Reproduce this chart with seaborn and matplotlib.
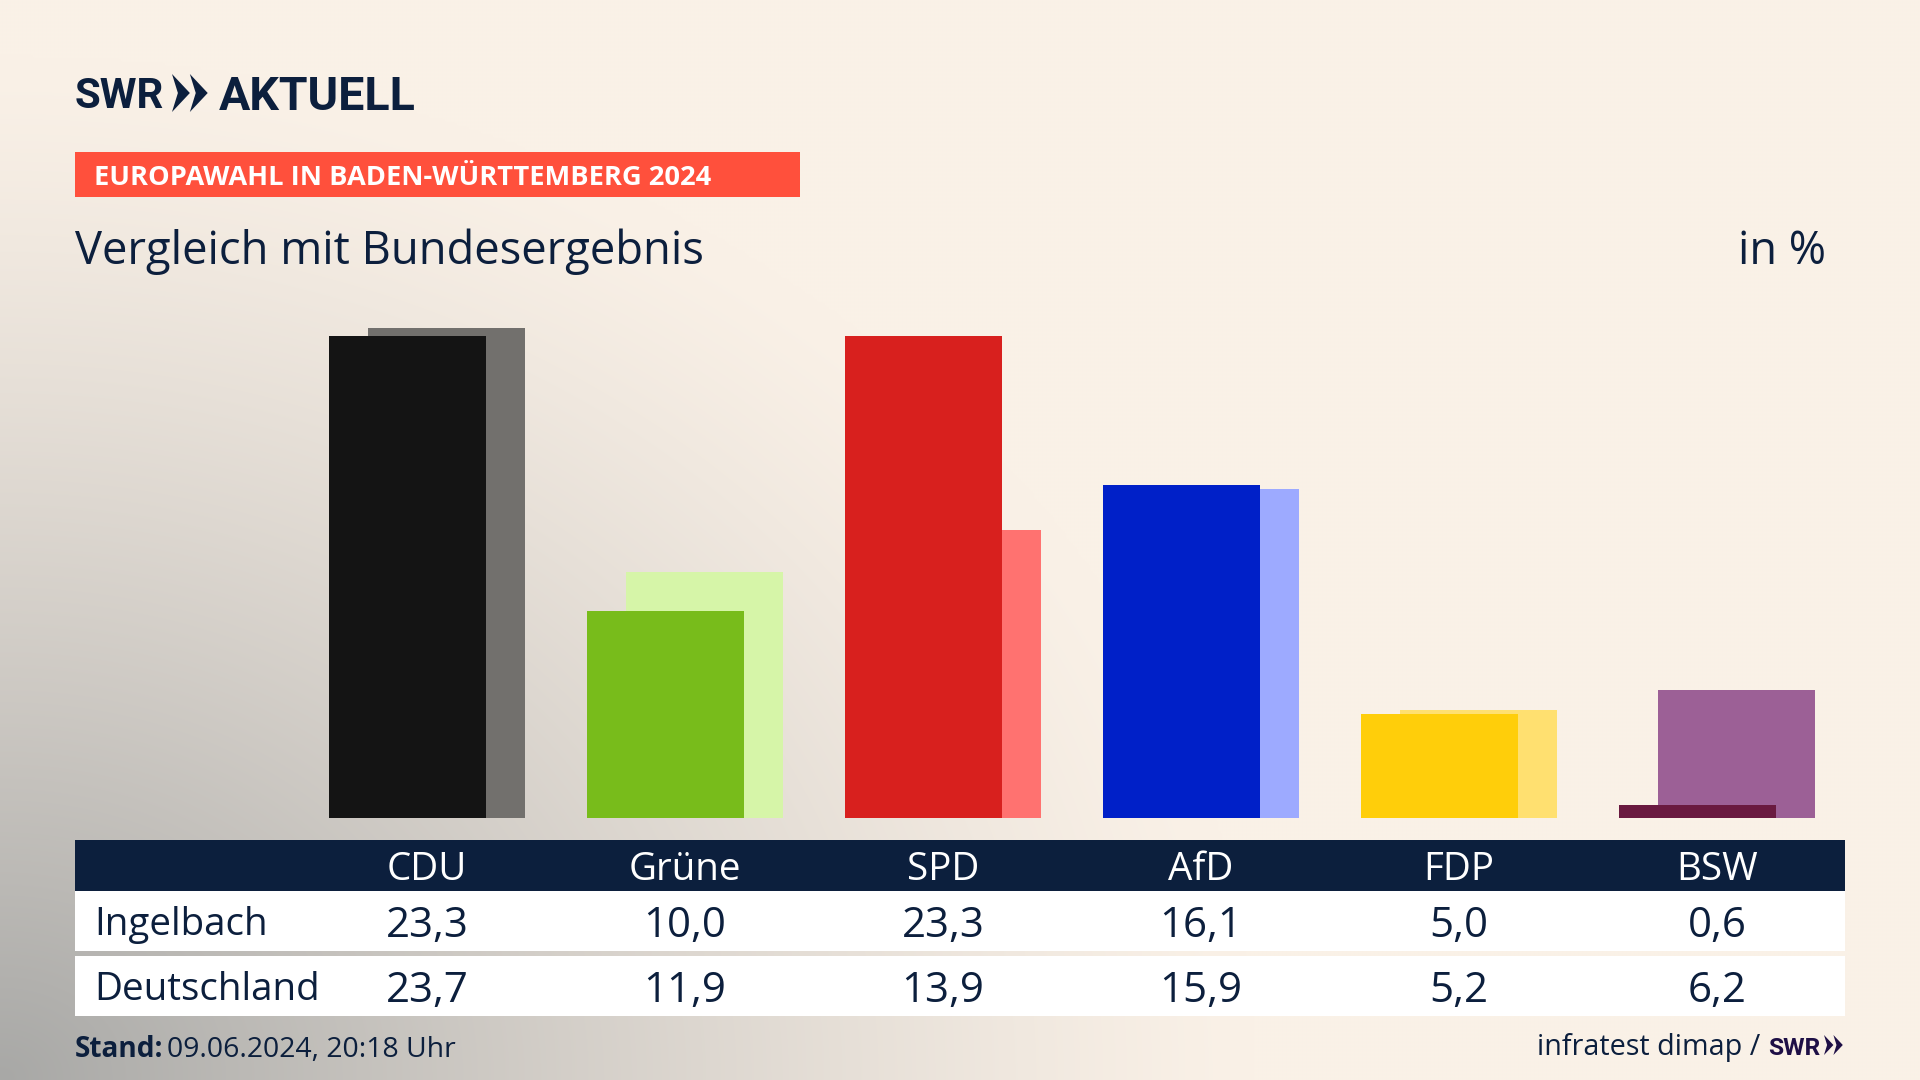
import numpy as np
import matplotlib
matplotlib.use('Agg')
import matplotlib.pyplot as plt
from matplotlib.patches import Rectangle, Polygon
import pandas as pd
import seaborn as sns

parties = ['CDU', 'Grüne', 'SPD', 'AfD', 'FDP', 'BSW']
ingelbach = [23.3, 10.0, 23.3, 16.1, 5.0, 0.6]
deutschland = [23.7, 11.9, 13.9, 15.9, 5.2, 6.2]
colors_front = ['#141414', '#78BC1B', '#D8201E', '#0020C8', '#FFCE0A', '#6A1A40']
colors_back = ['#72706D', '#D6F5A8', '#FF7270', '#9DAAFF', '#FFE070', '#9C6096']

NAVY = '#0C1F3D'
BEIGE = np.array([250, 241, 231]) / 255
CORNER = np.array([168, 168, 166]) / 255
FONT = 'Open Sans'
LOGO_FONT = 'Roboto'

sns.set_theme(style='white')
plt.rcParams['font.family'] = [FONT, 'DejaVu Sans']

fig = plt.figure(figsize=(19.2, 10.8), dpi=100)

# layout axes in pixels, everything that isn't a bar goes here
bg = fig.add_axes([0, 0, 1, 1], zorder=0)
bg.set_xlim(0, 1920)
bg.set_ylim(1080, 0)
bg.axis('off')

# grey glow from the bottom left corner
xx, yy = np.meshgrid(np.linspace(0, 1920, 480), np.linspace(0, 1080, 270))
d = np.sqrt((xx / 1250) ** 2 + ((1080 - yy) / 1020) ** 2)
t = np.clip(1 - d, 0, 1)[..., None] ** 1.25
bg.imshow(BEIGE + (CORNER - BEIGE) * t, extent=(0, 1920, 1080, 0), aspect='auto',
          interpolation='bicubic', zorder=0)


def px(size):
    return size * 72 / 100


def chevrons(x, y, h, color):
    # the two arrows of the SWR logo
    w = h * 0.47
    for off in [0, w]:
        bg.add_patch(Polygon([(x + off, y), (x + off + w, y + h / 2), (x + off, y + h),
                              (x + off + w * 0.33, y + h / 2)], closed=True, fc=color, lw=0, zorder=3))


# header
bg.text(75, 108, 'SWR', fontsize=px(42), family=LOGO_FONT, fontweight='bold', color=NAVY, va='baseline', zorder=3)
chevrons(172, 74, 38, NAVY)
bg.text(219, 110, 'AKTUELL', fontsize=px(46.5), family=LOGO_FONT, fontweight='bold', color=NAVY, va='baseline', zorder=3)

bg.add_patch(Rectangle((75, 152), 725, 45, fc='#FF503C', lw=0, zorder=2))
bg.text(94, 175, 'EUROPAWAHL IN BADEN-WÜRTTEMBERG 2024', fontsize=px(27.3), fontweight='bold',
        color='white', va='center_baseline', zorder=3)
bg.text(75, 264, 'Vergleich mit Bundesergebnis', fontsize=px(45.4), color=NAVY, va='baseline', zorder=3)
bg.text(1826, 264, 'in %', fontsize=px(45), color=NAVY, ha='right', va='baseline', zorder=3)

# table
bg.add_patch(Rectangle((75, 840), 1770, 51, fc=NAVY, lw=0, zorder=2))
bg.add_patch(Rectangle((75, 891), 1770, 60, fc='white', lw=0, zorder=2))
bg.add_patch(Rectangle((75, 956), 1770, 60, fc='white', lw=0, zorder=2))
bg.text(94, 921, 'Ingelbach', fontsize=px(38.5), color=NAVY, va='center_baseline', zorder=3)
bg.text(94, 986, 'Deutschland', fontsize=px(38.5), color=NAVY, va='center_baseline', zorder=3)
for i, name in enumerate(parties):
    cx = 427 + 258 * i
    bg.text(cx, 865, name, fontsize=px(38.5), color='white', ha='center', va='center_baseline', zorder=3)
    bg.text(cx, 921, f'{ingelbach[i]:.1f}'.replace('.', ','), fontsize=px(42), color=NAVY,
            ha='center', va='center_baseline', zorder=3)
    bg.text(cx, 986, f'{deutschland[i]:.1f}'.replace('.', ','), fontsize=px(42), color=NAVY,
            ha='center', va='center_baseline', zorder=3)

# footer
bg.text(75, 1057, 'Stand:', fontsize=px(28), fontweight='bold', color=NAVY, va='baseline', zorder=3)
bg.text(167, 1057, '09.06.2024, 20:18 Uhr', fontsize=px(28.4), color=NAVY, va='baseline', zorder=3)
bg.text(1760, 1055, 'infratest dimap /', fontsize=px(28.7), color=NAVY, ha='right', va='baseline', zorder=3)
bg.text(1768, 1055, 'SWR', fontsize=px(24.5), family=LOGO_FONT, fontweight='bold', color='#1E0F46', va='baseline', zorder=3)
chevrons(1824, 1035, 20, '#1E0F46')

# bars, Deutschland behind and Ingelbach in front
ax = fig.add_axes([300 / 1920, (1080 - 817.7) / 1080, 1540 / 1920, 517.7 / 1080], zorder=1)
ax.patch.set_alpha(0)
pos = np.arange(len(parties))
back = pd.DataFrame({'x': pos + 0.0756, 'y': deutschland, 'party': parties})
front = pd.DataFrame({'x': pos - 0.0756, 'y': ingelbach, 'party': parties})
sns.barplot(data=back, x='x', y='y', hue='party', palette=dict(zip(parties, colors_back)),
            native_scale=True, dodge=False, width=0.606, saturation=1, legend=False, linewidth=0, ax=ax)
sns.barplot(data=front, x='x', y='y', hue='party', palette=dict(zip(parties, colors_front)),
            native_scale=True, dodge=False, width=0.606, saturation=1, legend=False, linewidth=0, ax=ax)
ax.set_xlim((300 - 427) / 258, (1840 - 427) / 258)
ax.set_ylim(0, 517.7 / 20.67)
ax.axis('off')

fig.savefig('out.png', dpi=100)
